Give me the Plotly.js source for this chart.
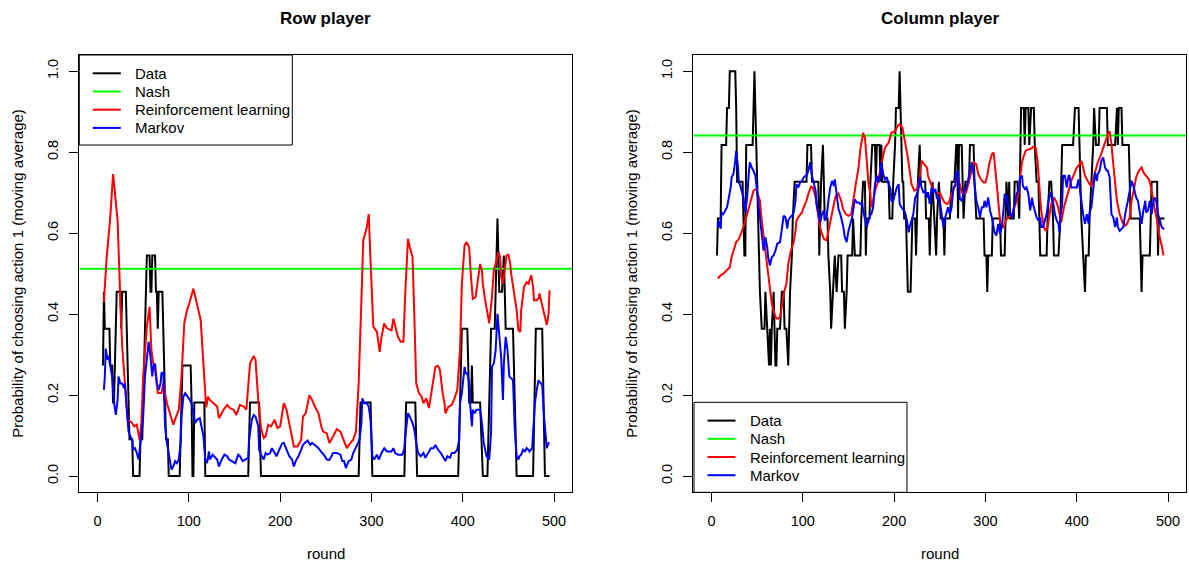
<!DOCTYPE html>
<html>
<head>
<meta charset="utf-8">
<script src="https://cdn.plot.ly/plotly-3.0.1.min.js"></script>
<style>
  html, body { margin: 0; padding: 0; background: #ffffff; }
  #chart { width: 1189px; height: 562px; }
</style>
</head>
<body>
<div id="chart"></div>
<script>
// ---- series ----
const seriesNames = ["Data", "Nash", "Reinforcement learning", "Markov"];
const seriesColors = ["#000000", "#00ff00", "#ff0000", "#0000ff"];
const xTicks = [0, 100, 200, 300, 400, 500];
const yTicks = [0, 0.2, 0.4, 0.6, 0.8, 1.0];

// Row player: observed moving average (11-round window)
const rowDataRound = [6,7,8,13,14,16,17,18,21,25,26,27,31,35,38,39,46,47,49,54,57,58,59,60,63,64,65,66,67,71,75,77,78,90,93,102,103,104,105,106,117,118,165,167,177,179,286,288,299,301,336,338,348,350,395,399,405,407,409,410,411,419,422,427,431,435,436,438,439,440,443,445,446,447,455,459,477,480,487,490,495];
const rowDataValue = [0.273,0.455,0.364,0.364,0.273,0.273,0.182,0.182,0.455,0.455,0.364,0.455,0.455,0.091,0.091,0,0,0.091,0.091,0.545,0.545,0.455,0.455,0.545,0.545,0.455,0.455,0.364,0.455,0.455,0.091,0.091,0,0,0.273,0.273,0.182,0,0,0.182,0.182,0,0,0.182,0.182,0,0,0.182,0.182,0,0,0.182,0.182,0,0,0.364,0.364,0.182,0.182,0.273,0.182,0.182,0,0,0.364,0.364,0.455,0.636,0.545,0.455,0.455,0.545,0.455,0.364,0.364,0,0,0.364,0.364,0,0];
const rowNash = 0.512;
const rowRLRound = [7,10,14,17,19,22,25,27,30,33,38,40,43,46,48,50,54,57,59,61,63,66,70,72,76,79,83,86,89,92,95,98,101,105,109,111,113,115,117,119,121,123,127,131,133,138,142,145,149,152,156,160,163,167,171,173,176,179,182,184,187,190,194,197,200,204,207,211,215,219,223,225,228,232,235,238,242,245,247,251,254,258,262,266,269,273,277,280,283,286,289,291,295,297,299,302,306,308,309,311,314,317,320,322,324,326,329,332,335,337,340,342,345,347,349,352,355,357,360,363,366,370,373,375,378,380,381,384,388,391,394,397,399,402,404,407,409,411,414,416,419,421,422,424,427,429,432,434,437,439,441,442,444,446,448,450,452,453,456,459,461,463,464,467,470,472,473,475,477,478,481,483,484,486,488,490,492,494,495];
const rowRLValue = [0.43,0.54,0.64,0.746,0.70,0.63,0.434,0.32,0.23,0.14,0.131,0.123,0.127,0.09,0.131,0.246,0.369,0.418,0.311,0.278,0.262,0.205,0.205,0.229,0.18,0.155,0.127,0.147,0.164,0.246,0.377,0.41,0.43,0.463,0.426,0.401,0.385,0.311,0.229,0.17,0.196,0.188,0.18,0.172,0.143,0.164,0.176,0.168,0.164,0.151,0.176,0.172,0.164,0.278,0.297,0.287,0.188,0.119,0.094,0.098,0.127,0.123,0.139,0.119,0.123,0.18,0.164,0.119,0.073,0.073,0.09,0.147,0.155,0.2,0.188,0.172,0.155,0.123,0.11,0.106,0.082,0.098,0.116,0.11,0.094,0.069,0.082,0.09,0.11,0.229,0.434,0.582,0.615,0.647,0.533,0.369,0.356,0.319,0.307,0.344,0.377,0.365,0.362,0.36,0.389,0.369,0.344,0.332,0.332,0.451,0.586,0.565,0.541,0.393,0.229,0.205,0.196,0.18,0.192,0.168,0.213,0.27,0.272,0.262,0.205,0.18,0.155,0.17,0.176,0.192,0.213,0.311,0.475,0.57,0.578,0.565,0.492,0.438,0.442,0.479,0.524,0.508,0.475,0.442,0.401,0.377,0.442,0.508,0.533,0.553,0.541,0.492,0.475,0.516,0.545,0.547,0.524,0.5,0.459,0.41,0.36,0.356,0.41,0.467,0.479,0.475,0.483,0.496,0.467,0.434,0.434,0.438,0.451,0.434,0.41,0.393,0.373,0.401,0.459];
const rowMarkovRound = [7,8,9,11,12,14,15,16,18,20,22,23,25,27,29,30,32,34,36,38,39,41,43,45,47,49,50,52,54,56,58,60,61,63,65,67,69,70,72,74,76,78,80,81,83,85,87,89,91,92,94,96,100,103,107,109,112,114,116,118,120,122,123,126,128,131,133,136,139,142,144,147,151,154,156,159,162,165,166,169,171,173,176,177,179,182,184,186,189,191,194,196,199,202,204,207,210,213,215,217,220,223,225,227,230,233,235,238,242,246,248,251,254,258,262,266,268,270,272,275,278,280,283,285,287,289,290,292,295,297,299,301,303,306,308,311,314,317,319,322,324,326,329,331,334,336,337,340,342,345,347,349,351,354,357,359,362,365,368,370,373,376,379,381,383,386,388,391,394,396,397,399,402,403,405,407,408,410,411,413,415,419,421,423,426,429,431,432,434,436,438,440,442,444,445,447,449,451,453,455,457,459,461,462,464,466,468,470,472,473,476,477,479,481,483,484,487,489,491,492,494,495];
const rowMarkovValue = [0.213,0.246,0.315,0.287,0.297,0.27,0.262,0.246,0.184,0.151,0.188,0.246,0.229,0.229,0.217,0.229,0.164,0.11,0.098,0.09,0.065,0.069,0.057,0.041,0.082,0.119,0.147,0.246,0.295,0.332,0.295,0.246,0.27,0.278,0.229,0.213,0.229,0.254,0.256,0.123,0.082,0.053,0.032,0.016,0.024,0.037,0.032,0.041,0.082,0.147,0.196,0.205,0.192,0.18,0.131,0.139,0.143,0.123,0.098,0.041,0.032,0.061,0.041,0.053,0.049,0.041,0.024,0.041,0.053,0.049,0.041,0.037,0.032,0.053,0.049,0.037,0.041,0.045,0.09,0.139,0.151,0.147,0.123,0.065,0.053,0.041,0.057,0.053,0.057,0.069,0.057,0.049,0.065,0.08,0.082,0.065,0.049,0.041,0.024,0.037,0.049,0.065,0.077,0.082,0.088,0.077,0.082,0.077,0.069,0.057,0.053,0.041,0.04,0.057,0.057,0.053,0.037,0.037,0.02,0.037,0.041,0.057,0.073,0.082,0.09,0.131,0.192,0.18,0.18,0.172,0.139,0.049,0.041,0.053,0.041,0.057,0.069,0.061,0.061,0.061,0.069,0.057,0.053,0.053,0.053,0.069,0.098,0.155,0.147,0.131,0.114,0.082,0.057,0.049,0.057,0.045,0.057,0.069,0.069,0.077,0.065,0.057,0.045,0.037,0.049,0.045,0.057,0.057,0.065,0.09,0.18,0.205,0.27,0.254,0.254,0.229,0.18,0.123,0.164,0.155,0.164,0.164,0.131,0.082,0.049,0.041,0.106,0.27,0.278,0.311,0.401,0.352,0.295,0.188,0.278,0.344,0.311,0.246,0.241,0.237,0.114,0.049,0.041,0.049,0.053,0.065,0.061,0.069,0.065,0.061,0.069,0.098,0.18,0.213,0.237,0.233,0.225,0.147,0.098,0.069,0.082,0.082];

// Column player
const colDataRound = [6,7,10,11,16,17,19,20,26,27,28,34,35,36,37,38,45,46,47,48,49,50,51,52,53,55,58,59,61,63,64,65,66,68,69,70,71,72,75,77,79,80,82,84,85,86,88,89,91,104,105,109,110,117,118,120,122,123,124,127,128,130,131,133,135,137,139,142,143,145,146,148,149,154,155,157,163,164,166,168,169,170,173,174,176,179,180,181,184,185,186,187,194,195,198,199,201,202,205,206,207,208,209,210,211,213,214,215,218,219,220,223,224,225,226,228,229,234,235,238,239,240,242,244,246,247,249,251,254,255,256,261,263,266,268,269,270,271,274,275,276,278,282,283,287,288,290,298,299,301,302,303,307,308,316,317,321,322,323,325,326,327,331,332,335,337,338,339,342,343,344,347,348,350,353,354,356,358,359,360,367,368,370,372,374,375,380,382,384,396,398,402,403,405,407,409,410,413,414,416,418,419,421,424,425,433,434,442,444,445,446,449,450,457,458,459,469,470,471,472,480,481,482,488,489,490,496];
const colDataValue = [0.545,0.636,0.636,0.818,0.818,0.909,0.909,1,1,0.909,0.727,0.727,0.636,0.545,0.545,0.818,0.818,0.909,1,0.909,0.818,0.727,0.636,0.545,0.455,0.364,0.364,0.455,0.364,0.273,0.364,0.273,0.364,0.455,0.364,0.273,0.273,0.364,0.364,0.455,0.455,0.364,0.364,0.273,0.364,0.455,0.545,0.636,0.727,0.727,0.818,0.818,0.727,0.727,0.545,0.727,0.818,0.727,0.636,0.636,0.545,0.455,0.364,0.455,0.545,0.455,0.545,0.545,0.455,0.455,0.364,0.455,0.545,0.545,0.636,0.545,0.545,0.636,0.727,0.727,0.545,0.636,0.636,0.727,0.818,0.818,0.727,0.818,0.818,0.727,0.818,0.727,0.727,0.636,0.636,0.727,0.818,0.909,0.909,1,0.909,0.818,0.727,0.727,0.636,0.636,0.545,0.455,0.455,0.545,0.636,0.636,0.545,0.636,0.727,0.818,0.727,0.727,0.636,0.636,0.545,0.636,0.727,0.636,0.545,0.636,0.727,0.636,0.636,0.545,0.636,0.636,0.727,0.727,0.818,0.818,0.636,0.818,0.818,0.727,0.636,0.727,0.727,0.818,0.818,0.727,0.636,0.636,0.545,0.545,0.455,0.545,0.545,0.636,0.636,0.545,0.545,0.636,0.727,0.636,0.727,0.636,0.636,0.727,0.727,0.636,0.818,0.909,0.909,0.818,0.909,0.909,0.818,0.909,0.909,0.818,0.727,0.727,0.636,0.545,0.545,0.636,0.727,0.727,0.636,0.545,0.545,0.636,0.818,0.818,0.909,0.909,0.818,0.636,0.545,0.455,0.545,0.545,0.636,0.727,0.818,0.909,0.818,0.818,0.909,0.909,0.818,0.818,0.909,0.818,0.909,0.909,0.818,0.818,0.727,0.636,0.636,0.545,0.455,0.545,0.545,0.636,0.727,0.727,0.545,0.636,0.636];
const colNash = 0.841;
const colRLRound = [7,10,13,17,20,22,24,27,30,32,35,38,41,43,46,49,50,53,55,58,61,64,66,69,71,73,75,77,79,82,84,87,90,92,93,96,99,101,104,106,109,111,114,116,119,121,123,126,128,131,134,136,139,142,144,147,150,153,155,158,161,163,166,168,170,172,174,175,177,179,182,185,188,190,194,197,201,204,206,209,212,215,217,219,222,225,228,230,233,236,237,240,243,247,250,252,255,258,260,263,266,268,271,274,277,279,282,285,287,290,292,295,298,300,302,304,307,309,310,312,314,316,318,320,322,325,328,330,333,336,338,340,342,344,347,349,352,355,357,359,361,364,366,368,370,372,375,378,380,382,383,386,389,392,394,397,400,403,405,407,409,411,414,416,418,421,423,426,429,432,434,436,438,440,442,444,447,450,453,455,458,460,463,465,468,471,473,476,479,481,483,485,488,490,493,495];
const colRLValue = [0.488,0.496,0.5,0.508,0.516,0.541,0.557,0.578,0.586,0.598,0.615,0.639,0.664,0.684,0.705,0.709,0.701,0.68,0.631,0.574,0.516,0.467,0.426,0.401,0.389,0.389,0.393,0.418,0.451,0.475,0.524,0.557,0.578,0.606,0.631,0.643,0.651,0.664,0.68,0.697,0.715,0.713,0.688,0.656,0.613,0.598,0.586,0.582,0.606,0.639,0.672,0.692,0.698,0.68,0.66,0.647,0.643,0.647,0.68,0.721,0.762,0.807,0.848,0.836,0.779,0.721,0.697,0.664,0.68,0.705,0.725,0.762,0.791,0.811,0.824,0.848,0.852,0.865,0.869,0.861,0.828,0.787,0.754,0.721,0.705,0.709,0.738,0.779,0.77,0.762,0.742,0.721,0.705,0.697,0.70,0.69,0.676,0.672,0.676,0.697,0.713,0.738,0.729,0.701,0.697,0.701,0.729,0.758,0.775,0.77,0.746,0.733,0.725,0.725,0.742,0.77,0.795,0.799,0.779,0.729,0.68,0.631,0.619,0.615,0.631,0.639,0.643,0.651,0.672,0.697,0.738,0.775,0.791,0.803,0.807,0.807,0.813,0.811,0.779,0.713,0.656,0.615,0.606,0.615,0.639,0.672,0.688,0.676,0.66,0.639,0.627,0.664,0.688,0.709,0.729,0.746,0.762,0.77,0.779,0.762,0.742,0.733,0.721,0.717,0.733,0.762,0.775,0.791,0.811,0.832,0.844,0.852,0.82,0.77,0.721,0.68,0.647,0.627,0.619,0.623,0.639,0.68,0.713,0.738,0.754,0.762,0.75,0.742,0.733,0.717,0.688,0.664,0.631,0.598,0.569,0.545];
const colMarkovRound = [7,8,10,11,13,15,17,19,21,22,24,26,27,29,30,31,33,35,37,39,41,42,44,46,48,50,52,53,55,57,59,61,62,64,66,68,70,72,75,77,79,81,83,84,86,88,90,92,93,95,97,99,101,103,104,106,108,110,112,114,115,117,119,121,123,124,126,128,130,132,134,135,137,139,141,143,144,146,148,150,152,154,155,157,159,161,163,165,166,168,170,172,174,175,177,179,181,183,185,186,188,190,192,194,196,197,199,201,203,205,206,208,210,212,214,216,217,219,221,223,225,227,228,230,232,234,236,237,239,241,243,245,247,248,250,252,254,256,258,259,261,263,265,267,268,270,272,274,276,278,279,281,283,285,287,289,290,292,294,296,298,299,301,303,305,307,309,310,312,314,316,318,320,321,323,325,327,329,330,332,334,336,338,340,341,343,345,347,349,351,352,354,356,358,360,361,363,365,367,369,371,372,374,376,378,380,381,382,384,385,387,389,391,392,394,398,400,402,403,405,407,409,411,413,414,416,418,420,422,423,425,427,429,431,433,434,436,438,440,442,444,445,447,449,451,453,454,456,458,460,462,464,465,467,469,471,473,475,476,478,480,482,484,485,487,489,491,493,495,496];
const colMarkovValue = [0.615,0.631,0.611,0.651,0.647,0.656,0.664,0.688,0.713,0.738,0.746,0.779,0.803,0.762,0.725,0.721,0.705,0.688,0.651,0.688,0.754,0.775,0.762,0.754,0.742,0.697,0.664,0.631,0.59,0.557,0.59,0.565,0.541,0.52,0.541,0.545,0.557,0.574,0.578,0.606,0.643,0.639,0.611,0.631,0.639,0.643,0.651,0.68,0.721,0.713,0.725,0.729,0.738,0.742,0.742,0.754,0.775,0.742,0.721,0.705,0.672,0.651,0.627,0.647,0.656,0.631,0.639,0.68,0.713,0.729,0.717,0.733,0.697,0.66,0.647,0.631,0.619,0.59,0.578,0.606,0.623,0.639,0.656,0.684,0.676,0.676,0.672,0.676,0.656,0.631,0.615,0.631,0.647,0.647,0.664,0.721,0.742,0.725,0.746,0.775,0.746,0.733,0.738,0.721,0.709,0.68,0.68,0.697,0.713,0.721,0.672,0.664,0.656,0.651,0.631,0.602,0.615,0.635,0.647,0.688,0.697,0.713,0.738,0.713,0.701,0.705,0.688,0.701,0.672,0.713,0.701,0.709,0.684,0.692,0.68,0.647,0.615,0.639,0.656,0.664,0.647,0.664,0.713,0.717,0.746,0.754,0.684,0.68,0.697,0.709,0.709,0.729,0.754,0.775,0.746,0.705,0.68,0.664,0.639,0.664,0.664,0.68,0.664,0.688,0.656,0.639,0.615,0.602,0.594,0.623,0.598,0.615,0.664,0.697,0.692,0.664,0.647,0.639,0.651,0.68,0.697,0.705,0.738,0.742,0.717,0.709,0.713,0.697,0.656,0.688,0.672,0.656,0.639,0.631,0.639,0.615,0.615,0.631,0.647,0.68,0.692,0.701,0.68,0.647,0.631,0.623,0.602,0.639,0.672,0.742,0.742,0.713,0.742,0.742,0.713,0.713,0.713,0.733,0.713,0.68,0.647,0.623,0.647,0.623,0.651,0.664,0.713,0.75,0.729,0.746,0.754,0.779,0.787,0.762,0.754,0.754,0.738,0.647,0.639,0.615,0.639,0.615,0.606,0.611,0.615,0.647,0.656,0.68,0.705,0.729,0.717,0.701,0.688,0.68,0.647,0.623,0.656,0.68,0.651,0.656,0.68,0.647,0.68,0.688,0.68,0.647,0.631,0.615,0.611,0.611];

// ---- drawing ----
const FONT = "Liberation Sans, Arial, Helvetica, sans-serif";
const xRange = [-19.96, 519.96];
const yRange = [-0.04, 1.04];
const W = 1189, H = 562;

function panelTraces(xa, ya, data, nash, rl, markov) {
  const common = { xaxis: xa, yaxis: ya, mode: "lines", showlegend: false, hoverinfo: "skip" };
  return [
    Object.assign({}, common, { name: seriesNames[0], x: data[0], y: data[1], line: { color: seriesColors[0], width: 2 } }),
    Object.assign({}, common, { name: seriesNames[1], x: xRange, y: [nash, nash], line: { color: seriesColors[1], width: 2 } }),
    Object.assign({}, common, { name: seriesNames[2], x: rl[0], y: rl[1], line: { color: seriesColors[2], width: 2 } }),
    Object.assign({}, common, { name: seriesNames[3], x: markov[0], y: markov[1], line: { color: seriesColors[3], width: 2 } })
  ];
}

const traces = [].concat(
  panelTraces("x", "y", [rowDataRound, rowDataValue], rowNash, [rowRLRound, rowRLValue], [rowMarkovRound, rowMarkovValue]),
  panelTraces("x2", "y2", [colDataRound, colDataValue], colNash, [colRLRound, colRLValue], [colMarkovRound, colMarkovValue])
);

// plot boxes in pixels
const leftBox = { l: 79.3, r: 572.3 };
const rightBox = { l: 693.3, r: 1186.3 };
const boxTop = 55, boxBottom = 492.3;
const yDomain = [(H - boxBottom) / H, (H - boxTop) / H];

function xAxis(box, anchor) {
  return {
    domain: [box.l / W, box.r / W], anchor: anchor, range: xRange,
    tickmode: "array", tickvals: xTicks, ticktext: xTicks.map(String),
    ticks: "outside", ticklen: 9, tickwidth: 1, tickcolor: "#000",
    ticklabelstandoff: 6,
    showline: true, mirror: true, linecolor: "#000", linewidth: 1,
    showgrid: false, zeroline: false, fixedrange: true,
    tickfont: { family: FONT, size: 14.5, color: "#000" }
  };
}
function yAxis(anchor) {
  return {
    domain: yDomain, anchor: anchor, range: yRange,
    tickmode: "array", tickvals: yTicks, ticktext: yTicks.map(v => v.toFixed(1)),
    tickangle: -90,
    ticks: "outside", ticklen: 9, tickwidth: 1, tickcolor: "#000",
    ticklabelstandoff: 6,
    showline: true, mirror: true, linecolor: "#000", linewidth: 1,
    showgrid: false, zeroline: false, fixedrange: true,
    tickfont: { family: FONT, size: 14.5, color: "#000" }
  };
}

function px2x(p) { return p / W; }
function px2y(p) { return 1 - p / H; }

function label(text, xPx, yPx, opts) {
  return Object.assign({
    text: text, xref: "paper", yref: "paper", x: px2x(xPx), y: px2y(yPx),
    xanchor: "center", yanchor: "middle", showarrow: false,
    font: { family: FONT, size: 15, color: "#000" }
  }, opts || {});
}

// legend box: framed white panel with a short line sample and a name per series
const LEG = { w: 213, h: 90, rowTop: 18.3, rowStep: 18.2, lineFrom: 13.5, lineTo: 41.5, textAt: 54 };
function legendParts(left, top) {
  const shapes = [{
    type: "rect", xref: "paper", yref: "paper",
    x0: px2x(left), x1: px2x(left + LEG.w), y0: px2y(top), y1: px2y(top + LEG.h),
    line: { color: "#000", width: 1 }, fillcolor: "#ffffff", layer: "above"
  }];
  const notes = [];
  seriesNames.forEach((name, i) => {
    const yy = top + LEG.rowTop + i * LEG.rowStep;
    shapes.push({
      type: "line", xref: "paper", yref: "paper",
      x0: px2x(left + LEG.lineFrom), x1: px2x(left + LEG.lineTo), y0: px2y(yy), y1: px2y(yy),
      line: { color: seriesColors[i], width: 2 }, layer: "above"
    });
    notes.push(label(name, left + LEG.textAt, yy, { xanchor: "left" }));
  });
  return { shapes, notes };
}
const legRow = legendParts(leftBox.l, boxTop);
const legCol = legendParts(694, boxBottom - LEG.h);

const yTitle = "Probability of choosing action 1 (moving average)";
const midY = (boxTop + boxBottom) / 2;
const annotations = [
  label("<b>Row player</b>", (leftBox.l + leftBox.r) / 2, 18, { font: { family: FONT, size: 17, color: "#000" } }),
  label("<b>Column player</b>", (rightBox.l + rightBox.r) / 2, 18, { font: { family: FONT, size: 17, color: "#000" } }),
  label("round", (leftBox.l + leftBox.r) / 2, 553),
  label("round", (rightBox.l + rightBox.r) / 2, 553),
  label(yTitle, 18, midY, { textangle: -90 }),
  label(yTitle, 632, midY, { textangle: -90 })
].concat(legRow.notes, legCol.notes);

const layout = {
  width: W, height: H,
  margin: { l: 0, r: 0, t: 0, b: 0 },
  paper_bgcolor: "#ffffff", plot_bgcolor: "#ffffff",
  font: { family: FONT, size: 14, color: "#000" },
  xaxis: xAxis(leftBox, "y"), yaxis: yAxis("x"),
  xaxis2: xAxis(rightBox, "y2"), yaxis2: yAxis("x2"),
  shapes: legRow.shapes.concat(legCol.shapes),
  annotations: annotations,
  showlegend: false
};

Plotly.newPlot("chart", traces, layout, { staticPlot: true, displayModeBar: false });
</script>
</body>
</html>
